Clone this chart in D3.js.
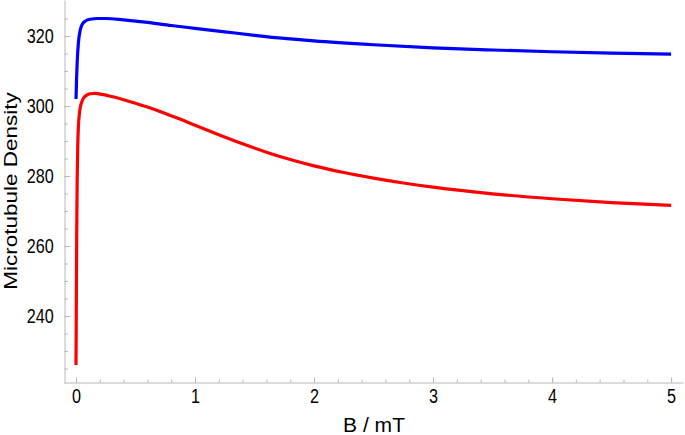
<!DOCTYPE html>
<html>
<head>
<meta charset="utf-8">
<script src="https://cdn.jsdelivr.net/npm/d3@7"></script>
<style>
  body { margin: 0; background: #fff; }
  text { font-family: "Liberation Sans", Arial, sans-serif; fill: #000; }
</style>
</head>
<body>
<div id="chart"></div>
<script>
// field values
const bBlue = [0, 0.005, 0.01, 0.02, 0.035, 0.05, 0.08, 0.12, 0.18, 0.25, 0.4, 0.6, 0.8, 1.0, 1.25, 1.5, 1.75, 2, 2.5, 3, 3.5, 4, 4.5, 5]
const densityBlue = [302, 308, 312.5, 318, 321.6, 323.2, 324.3, 324.8, 325.0, 325.0, 324.6, 323.9, 323.0, 322.2, 321.2, 320.2, 319.3, 318.6, 317.5, 316.6, 316.0, 315.5, 315.1, 314.8]

const bRed = [0, 0.002, 0.004, 0.007, 0.01, 0.015, 0.02, 0.03, 0.045, 0.065, 0.09, 0.12, 0.16, 0.22, 0.3, 0.4, 0.5, 0.6, 0.7, 0.8, 0.9, 1.0, 1.2, 1.4, 1.6, 1.8, 2.0, 2.25, 2.5, 2.75, 3, 3.5, 4, 4.5, 5]
const densityRed = [226, 238, 252, 268, 279, 289, 294, 298.3, 300.8, 302.3, 303.1, 303.5, 303.6, 303.3, 302.7, 301.8, 300.8, 299.7, 298.5, 297.2, 295.9, 294.5, 291.8, 289.2, 286.8, 284.7, 282.9, 281.0, 279.4, 278.0, 276.8, 274.9, 273.5, 272.4, 271.6]

const xTicks = [0, 1, 2, 3, 4, 5]
const yTicks = [240, 260, 280, 300, 320]

const width = 685, height = 435
const xScale = d3.scaleLinear().domain([-0.1, 5.1]).range([64.1, 683])
const yScale = d3.scaleLinear().domain([240, 320]).range([316, 36])

const svg = d3.select("#chart").append("svg")
    .attr("width", width)
    .attr("height", height)

// y axis spans the whole plot height
const yAxisScale = yScale.copy().domain([yScale.invert(383), yScale.invert(0)]).range([383, 0])
const xMinor = d3.range(0, 5.01, 0.2).map(v => +v.toFixed(1))
const yMinor = d3.range(225, 326, 5)

const axisColor = "#b8b8b8"

svg.append("g")
    .attr("transform", "translate(0,382.5)")
    .call(d3.axisBottom(xScale).tickValues(xMinor).tickSize(-3).tickSizeOuter(0).tickFormat(""))
    .call(g => g.select(".domain").remove())
    .call(g => g.selectAll("line").attr("stroke", axisColor))

const xAxis = svg.append("g")
    .attr("transform", "translate(0,382.5)")
    .call(d3.axisBottom(xScale).tickValues(xTicks).tickSize(-5).tickSizeOuter(0).tickPadding(21).tickFormat(d3.format("d")))
xAxis.select(".domain").attr("stroke", axisColor)
xAxis.selectAll("line").attr("stroke", axisColor)
xAxis.selectAll("text")
    .attr("font-size", "19.5px")
    .attr("font-family", "Liberation Sans, Arial, sans-serif")
    .attr("dy", null)
    .attr("transform", "scale(0.83,1)")

svg.append("g")
    .attr("transform", "translate(64.5,0)")
    .call(d3.axisLeft(yScale).tickValues(yMinor).tickSize(-3.5).tickSizeOuter(0).tickFormat(""))
    .call(g => g.select(".domain").remove())
    .call(g => g.selectAll("line").attr("stroke", axisColor))

const yAxis = svg.append("g")
    .attr("transform", "translate(64.5,0)")
    .call(d3.axisLeft(yAxisScale).tickValues(yTicks).tickSize(-6).tickSizeOuter(0).tickPadding(13))
yAxis.select(".domain").attr("stroke", axisColor)
yAxis.selectAll("line").attr("stroke", axisColor)
yAxis.selectAll("text")
    .attr("font-size", "19.5px")
    .attr("font-family", "Liberation Sans, Arial, sans-serif")
    .attr("transform", "scale(0.83,1)")

// curves
const line = d3.line()
    .x(d => xScale(d[0]))
    .y(d => yScale(d[1]))
    .curve(d3.curveMonotoneX)

svg.append("path")
    .datum(d3.zip(bBlue, densityBlue))
    .attr("fill", "none")
    .attr("stroke", "#0000ff")
    .attr("stroke-width", 3.2)
    .attr("d", line)

svg.append("path")
    .datum(d3.zip(bRed, densityRed))
    .attr("fill", "none")
    .attr("stroke", "#ff0000")
    .attr("stroke-width", 3.2)
    .attr("d", line)

// axis titles
svg.append("text")
    .attr("x", 374)
    .attr("y", 432)
    .attr("text-anchor", "middle")
    .attr("font-size", "20px")
    .attr("textLength", 62)
    .attr("lengthAdjust", "spacingAndGlyphs")
    .text("B / mT")

svg.append("text")
    .attr("transform", "translate(16.5,191) rotate(-90) scale(1,0.83)")
    .attr("text-anchor", "middle")
    .attr("font-size", "22.5px")
    .text("Microtubule Density")
</script>
</body>
</html>
